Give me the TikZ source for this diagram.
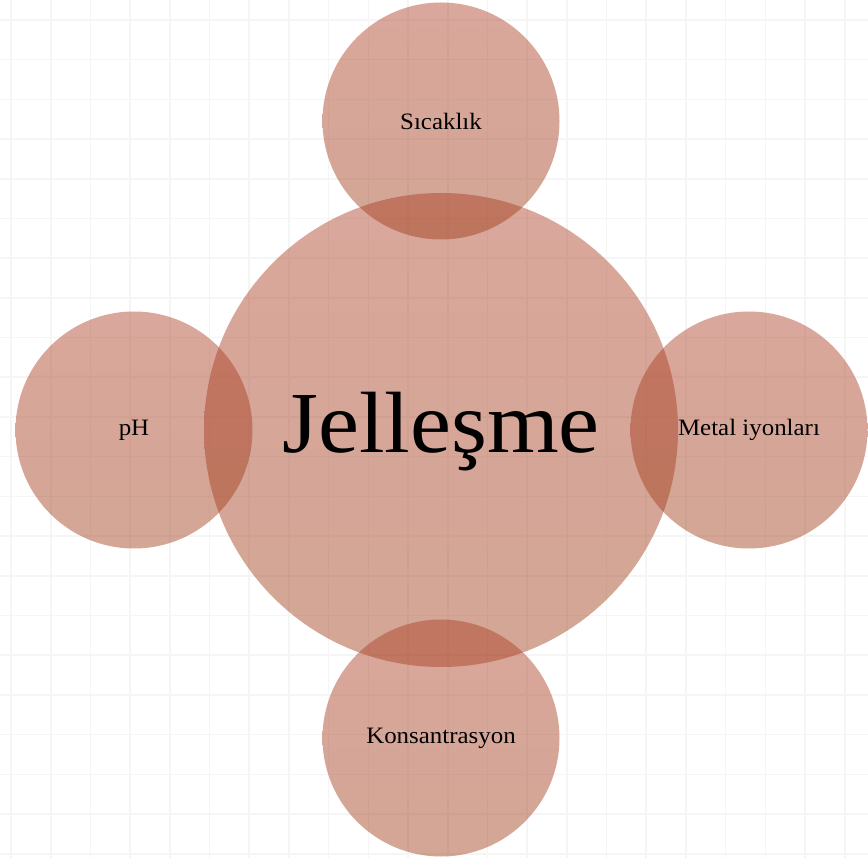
\documentclass[tikz,border=0pt]{standalone}
\usepackage{fontspec}
\setmainfont[FakeStretch=1.06]{Liberation Serif}
\begin{document}
\begin{tikzpicture}[x=1pt,y=-1pt,
  gridline/.style={draw=black!4,line width=1.6pt},
  bubble/.style={circle,inner sep=0pt,draw=none,
    top color={rgb,255:red,172;green,60;blue,35},
    bottom color={rgb,255:red,158;green,58;blue,20},
    fill opacity=0.45,text opacity=1},
  big/.style={bubble,minimum size=474pt},
  small/.style={bubble,minimum size=237pt},
  bigtext/.style={font=\fontsize{87}{90}\selectfont},
  label/.style={font=\fontsize{23.5}{26}\selectfont}]
\useasboundingbox (0,0) rectangle (868,858);
\fill[white] (0,0) rectangle (868,858);
\foreach \i in {0,...,21}{
  \draw[gridline] ({11+39.7*\i},0) -- ({11+39.7*\i},858);
  \draw[gridline] (0,{20+39.7*\i}) -- (868,{20+39.7*\i});
}
\node[big] (c) at (441,430) {};
\node[small] (t) at (441,121) {};
\node[small] (l) at (134,430) {};
\node[small] (r) at (749,430) {};
\node[small] (b) at (441,738) {};
\node[bigtext,anchor=base] (ct) at (441,453) {Jelleşme};
\node[label] (tt) at (t) {Sıcaklık};
\node[label] (lt) at (l) {pH};
\node[label] (rt) at (r) {Metal iyonları};
\node[label] (bt) at (b) {Konsantrasyon};
\end{tikzpicture}
\end{document}
